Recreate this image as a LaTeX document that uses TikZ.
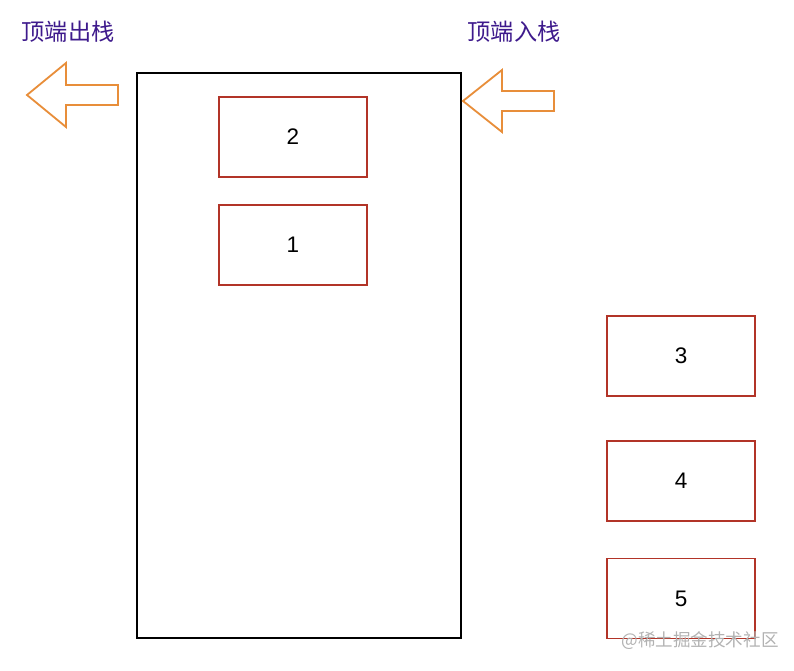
\documentclass[tikz,border=0pt]{standalone}
\usepackage{fontspec}
\setmainfont{Liberation Sans}
\newfontfamily\cjk{Noto Sans CJK SC}
\usetikzlibrary{positioning}
\definecolor{boxred}{RGB}{178,52,40}
\definecolor{arroworange}{RGB}{232,142,58}
\definecolor{labelpurple}{RGB}{62,26,140}

\begin{document}
\begin{tikzpicture}[
  x=0.025cm, y=-0.025cm,
  stack/.style={draw, line width=1.2pt, minimum width=8.1cm, minimum height=14.125cm, inner sep=0pt},
  item/.style={draw=boxred, line width=1.2pt, minimum width=3.7cm, minimum height=2cm, inner sep=0pt, font=\fontsize{16}{19}\selectfont},
  hint/.style={text=labelpurple, font=\cjk\fontsize{16.5}{19}\selectfont},
  bigarrow/.style={draw=arroworange, line width=1.3pt, line join=miter}
]
\useasboundingbox (0,0) rectangle (794,670);

% the stack itself
\node[stack] (stack) at (299,355.5) {};

% elements inside the stack
\node[item] (two) at (293,137) {2};
\node[item] (one) at (293,245) {1};

% elements waiting outside
\node[item] (three) at (681,356) {3};
\node[item] (four) at (681,481) {4};
\node[item] (five) at (681,598.5) {5};

% labels
\node[hint] (popl) at (68,32) {顶端出栈};
\node[hint] (pushl) at (514,32) {顶端入栈};

% pop / push arrows
\draw[bigarrow] (27,95) -- (66,63) -- (66,85) -- (118,85) -- (118,105) -- (66,105) -- (66,127) -- cycle;
\draw[bigarrow] (463,101) -- (502,70) -- (502,91) -- (554,91) -- (554,111) -- (502,111) -- (502,132) -- cycle;

\node[text=black!30, font=\cjk\fontsize{12.5}{15}\selectfont] (mark) at (700,641) {@稀土掘金技术社区};
\end{tikzpicture}
\end{document}
